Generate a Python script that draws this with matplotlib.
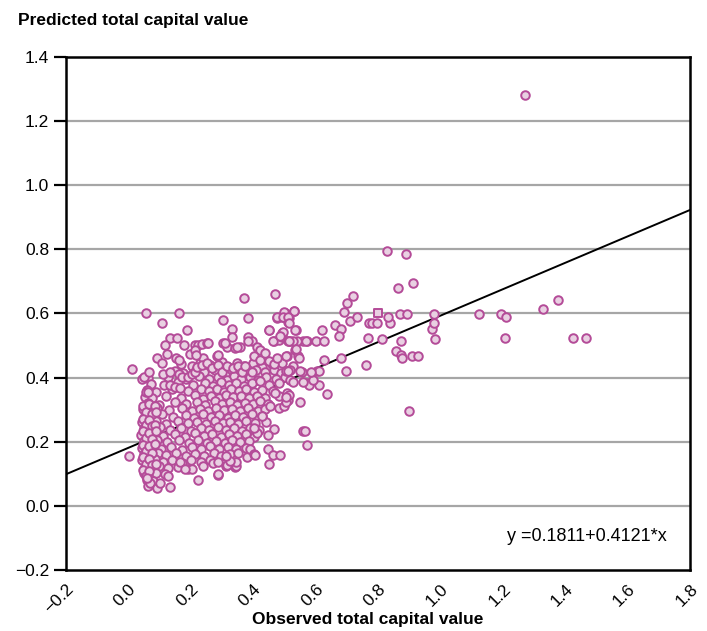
import numpy as np
import matplotlib.pyplot as plt

# regression line printed on the chart
intercept = 0.1811
slope = 0.4121

x_ticks = [-0.2, 0.0, 0.2, 0.4, 0.6, 0.8, 1.0, 1.2, 1.4, 1.6, 1.8]
y_ticks = [-0.2, 0.0, 0.2, 0.4, 0.6, 0.8, 1.0, 1.2, 1.4]
grid_levels = [0.0, 0.2, 0.4, 0.6, 0.8, 1.0, 1.2]

# (observed, predicted) pairs
core_points = [
    (0.170, 0.442), (0.205, 0.436), (0.228, 0.447), (0.262, 0.438), (0.300, 0.449), (0.318, 0.433),
    (0.347, 0.444), (0.372, 0.437), (0.398, 0.446), (0.428, 0.432), (0.459, 0.441), (0.492, 0.447),
    (0.527, 0.436),
    (0.148, 0.421), (0.176, 0.414), (0.215, 0.425), (0.243, 0.418), (0.276, 0.423), (0.308, 0.412),
    (0.330, 0.426), (0.356, 0.419), (0.381, 0.413), (0.409, 0.424), (0.437, 0.417), (0.466, 0.425),
    (0.488, 0.413),
    (0.062, 0.398), (0.126, 0.402), (0.185, 0.395), (0.226, 0.404), (0.258, 0.396), (0.287, 0.401),
    (0.316, 0.394), (0.338, 0.405), (0.362, 0.397), (0.389, 0.402), (0.414, 0.393), (0.442, 0.403),
    (0.474, 0.396), (0.503, 0.401),
    (0.072, 0.381), (0.113, 0.376), (0.158, 0.385), (0.206, 0.378), (0.245, 0.383), (0.272, 0.374),
    (0.298, 0.386), (0.322, 0.377), (0.345, 0.384), (0.371, 0.375), (0.396, 0.382), (0.421, 0.388),
    (0.451, 0.377), (0.483, 0.383),
    (0.058, 0.362), (0.088, 0.356), (0.139, 0.364), (0.192, 0.357), (0.232, 0.366), (0.259, 0.358),
    (0.283, 0.363), (0.307, 0.355), (0.329, 0.366), (0.353, 0.358), (0.378, 0.364), (0.403, 0.356),
    (0.429, 0.362), (0.462, 0.357),
    (0.052, 0.341), (0.076, 0.336), (0.121, 0.344), (0.168, 0.337), (0.212, 0.345), (0.238, 0.334),
    (0.265, 0.343), (0.291, 0.336), (0.313, 0.346), (0.336, 0.338), (0.361, 0.343), (0.387, 0.335),
    (0.412, 0.344), (0.438, 0.337), (0.482, 0.342),
    (0.064, 0.322), (0.098, 0.316), (0.149, 0.325), (0.186, 0.318), (0.219, 0.323), (0.247, 0.314),
    (0.276, 0.326), (0.299, 0.317), (0.324, 0.324), (0.348, 0.315), (0.373, 0.322), (0.398, 0.317),
    (0.423, 0.326), (0.446, 0.318),
    (0.048, 0.302), (0.068, 0.296), (0.091, 0.305), (0.131, 0.298), (0.172, 0.304), (0.203, 0.295),
    (0.228, 0.303), (0.256, 0.297), (0.282, 0.306), (0.306, 0.298), (0.331, 0.303), (0.357, 0.295),
    (0.384, 0.304), (0.416, 0.297), (0.437, 0.301),
    (0.052, 0.281), (0.079, 0.276), (0.108, 0.285), (0.142, 0.277), (0.183, 0.283), (0.211, 0.274),
    (0.238, 0.285), (0.266, 0.278), (0.291, 0.284), (0.318, 0.275), (0.342, 0.283), (0.368, 0.277),
    (0.395, 0.286), (0.427, 0.279),
    (0.043, 0.262), (0.063, 0.257), (0.087, 0.264), (0.121, 0.256), (0.159, 0.265), (0.192, 0.258),
    (0.221, 0.263), (0.248, 0.255), (0.277, 0.264), (0.302, 0.257), (0.327, 0.262), (0.352, 0.256),
    (0.378, 0.265), (0.406, 0.258), (0.441, 0.263),
    (0.051, 0.242), (0.072, 0.236), (0.101, 0.245), (0.133, 0.238), (0.168, 0.243), (0.199, 0.235),
    (0.231, 0.244), (0.259, 0.237), (0.287, 0.246), (0.312, 0.238), (0.338, 0.243), (0.363, 0.235),
    (0.391, 0.244), (0.418, 0.237), (0.468, 0.241),
    (0.041, 0.221), (0.059, 0.216), (0.082, 0.225), (0.112, 0.218), (0.148, 0.224), (0.181, 0.215),
    (0.212, 0.226), (0.242, 0.217), (0.269, 0.223), (0.297, 0.215), (0.323, 0.224), (0.348, 0.218),
    (0.376, 0.225), (0.401, 0.216), (0.447, 0.222),
    (0.049, 0.202), (0.071, 0.196), (0.093, 0.205), (0.124, 0.198), (0.162, 0.204), (0.193, 0.195),
    (0.223, 0.206), (0.252, 0.197), (0.281, 0.203), (0.309, 0.196), (0.333, 0.205), (0.358, 0.198),
    (0.387, 0.203),
    (0.042, 0.181), (0.061, 0.176), (0.083, 0.185), (0.103, 0.177), (0.138, 0.183), (0.172, 0.175),
    (0.203, 0.184), (0.234, 0.178), (0.262, 0.186), (0.291, 0.177), (0.318, 0.183), (0.346, 0.176),
    (0.377, 0.182),
    (0.051, 0.162), (0.073, 0.156), (0.094, 0.165), (0.121, 0.158), (0.152, 0.164), (0.183, 0.157),
    (0.212, 0.163), (0.241, 0.155), (0.273, 0.164), (0.298, 0.157), (0.327, 0.162),
    (0.043, 0.142), (0.062, 0.136), (0.084, 0.145), (0.111, 0.138), (0.141, 0.143), (0.172, 0.135),
    (0.201, 0.144), (0.232, 0.137), (0.262, 0.143),
    (0.052, 0.121), (0.071, 0.116), (0.098, 0.124), (0.128, 0.117), (0.158, 0.122), (0.191, 0.115),
    (0.049, 0.102), (0.068, 0.096), (0.088, 0.104), (0.118, 0.098),
    (0.058, 0.082), (0.079, 0.077),
]

# the tight column of low observed values near 0.05-0.09
column_points = [
    (0.046, 0.312), (0.055, 0.292), (0.047, 0.272), (0.057, 0.252), (0.046, 0.232), (0.055, 0.211),
    (0.047, 0.191), (0.056, 0.171), (0.046, 0.152), (0.056, 0.131), (0.047, 0.112), (0.057, 0.092),
    (0.066, 0.318), (0.075, 0.288), (0.066, 0.268), (0.076, 0.248), (0.065, 0.228), (0.077, 0.208),
    (0.066, 0.186), (0.076, 0.166), (0.065, 0.146), (0.077, 0.128), (0.066, 0.108), (0.064, 0.062),
    (0.085, 0.312), (0.088, 0.292), (0.086, 0.252), (0.089, 0.232), (0.085, 0.192), (0.087, 0.132),
]

edge_points = [
    (0.057, 0.603), (0.162, 0.603), (0.107, 0.570), (0.188, 0.547), (0.303, 0.580), (0.369, 0.648),
    (0.384, 0.585), (0.333, 0.552), (0.333, 0.528), (0.133, 0.523), (0.157, 0.523), (0.118, 0.501),
    (0.178, 0.501), (0.123, 0.473), (0.213, 0.501), (0.224, 0.501), (0.237, 0.504), (0.252, 0.507),
    (0.198, 0.473), (0.238, 0.461), (0.213, 0.487), (0.217, 0.471), (0.092, 0.461), (0.107, 0.445),
    (0.151, 0.461), (0.162, 0.455), (0.112, 0.411), (0.133, 0.418), (0.162, 0.411), (0.173, 0.403),
    (0.011, 0.427), (0.043, 0.395), (0.050, 0.401), (0.067, 0.416), (0.133, 0.376), (0.149, 0.372),
    (0.165, 0.367), (0.192, 0.403), (0.203, 0.411), (0.213, 0.419), (0.219, 0.432), (0.235, 0.438),
    (0.251, 0.445), (0.267, 0.429), (0.283, 0.466), (0.304, 0.507), (0.315, 0.497), (0.342, 0.492),
    (0.358, 0.495), (0.384, 0.528), (0.395, 0.513), (0.411, 0.497), (0.422, 0.487), (0.451, 0.547),
    (0.465, 0.513), (0.481, 0.518), (0.491, 0.528), (0.476, 0.585), (0.491, 0.588), (0.502, 0.603),
    (0.516, 0.585), (0.532, 0.609), (0.513, 0.572), (0.536, 0.547), (0.518, 0.513), (0.534, 0.487),
    (0.561, 0.513), (0.571, 0.513), (0.288, 0.440), (0.299, 0.416), (0.315, 0.435), (0.336, 0.429),
    (0.352, 0.435), (0.363, 0.416), (0.374, 0.435), (0.395, 0.419), (0.401, 0.466), (0.422, 0.455),
    (0.438, 0.476), (0.449, 0.453), (0.465, 0.443), (0.476, 0.461), (0.508, 0.466), (0.545, 0.466),
    (0.556, 0.419), (0.518, 0.424), (0.577, 0.383), (0.454, 0.310), (0.481, 0.305), (0.513, 0.331),
    (0.507, 0.352), (0.516, 0.346), (0.002, 0.154), (0.056, 0.355), (0.064, 0.355),
    (0.254, 0.509), (0.310, 0.507), (0.286, 0.471), (0.347, 0.497), (0.384, 0.513), (0.464, 0.513),
    (0.512, 0.513), (0.491, 0.539),
    (0.068, 0.071), (0.092, 0.055), (0.059, 0.086), (0.133, 0.058), (0.101, 0.071), (0.128, 0.092),
    (0.222, 0.081), (0.288, 0.097), (0.313, 0.125), (0.342, 0.120), (0.203, 0.114), (0.238, 0.125),
    (0.272, 0.133), (0.165, 0.138), (0.181, 0.114),
    (0.288, 0.099), (0.344, 0.123), (0.315, 0.126), (0.344, 0.138), (0.288, 0.138), (0.326, 0.140),
    (0.313, 0.156), (0.352, 0.164), (0.379, 0.151), (0.390, 0.178), (0.403, 0.161), (0.429, 0.279),
    (0.411, 0.227), (0.403, 0.244), (0.561, 0.234),
    (0.448, 0.177), (0.464, 0.160), (0.486, 0.160), (0.451, 0.132), (0.405, 0.160),
]

right_points = [
    (0.470, 0.661), (0.530, 0.609), (0.500, 0.604), (0.475, 0.588), (0.494, 0.588), (0.510, 0.588),
    (0.515, 0.570), (0.450, 0.547), (0.494, 0.541), (0.486, 0.530), (0.535, 0.547), (0.620, 0.547),
    (0.661, 0.564), (0.681, 0.553), (0.676, 0.530), (0.711, 0.575), (0.771, 0.570), (0.782, 0.570),
    (0.797, 0.570), (0.837, 0.570), (0.972, 0.552), (0.979, 0.570), (0.984, 0.519), (0.767, 0.523),
    (0.813, 0.519), (0.873, 0.513), (0.858, 0.484), (0.874, 0.469), (0.878, 0.462), (0.908, 0.468),
    (0.928, 0.468), (0.762, 0.439), (0.681, 0.462), (0.626, 0.455), (0.696, 0.422), (0.898, 0.297),
    (0.567, 0.235), (0.571, 0.189), (0.637, 0.348), (0.550, 0.325), (0.611, 0.376), (0.580, 0.376),
    (0.591, 0.393), (0.603, 0.422), (0.612, 0.422), (0.585, 0.416), (0.570, 0.513), (0.600, 0.513),
    (0.626, 0.513), (0.546, 0.462), (0.505, 0.468), (0.550, 0.422), (0.561, 0.387), (0.539, 0.513),
    (0.529, 0.513), (0.515, 0.513), (0.536, 0.489), (0.505, 0.422), (0.511, 0.422), (0.518, 0.393),
    (0.529, 0.387), (0.500, 0.313), (0.505, 0.325), (0.505, 0.341), (0.470, 0.353),
    (0.828, 0.796), (0.889, 0.785), (0.863, 0.678), (0.913, 0.695), (0.721, 0.655), (0.702, 0.632),
    (0.691, 0.604), (0.732, 0.589), (0.832, 0.589), (0.872, 0.598), (0.893, 0.598), (0.979, 0.598),
    (1.125, 0.598), (1.194, 0.598), (1.209, 0.589), (1.207, 0.524), (1.330, 0.615), (1.376, 0.643),
    (1.425, 0.524), (1.467, 0.524), (1.270, 1.280),
]

square_point = [(0.800, 0.601)]

edge_col = "#b44b98"
face_col = "#e9d0e2"
label_font = ["Liberation Sans", "DejaVu Sans"]

pts = np.array(core_points + column_points + edge_points + right_points)
sq = np.array(square_point)

fig = plt.figure(figsize=(7.07, 6.31), dpi=100)
ax = fig.add_axes([0.0934, 0.0967, 0.8826, 0.813])

for g in grid_levels:
    ax.axhline(g, color="#a6a6a6", lw=1.6, zorder=1)

xs = np.array([x_ticks[0], x_ticks[-1]])
ax.plot(xs, intercept + slope * xs, color="black", lw=1.4, zorder=2)

ax.scatter(pts[:, 0], pts[:, 1], s=38, marker="o", facecolor=face_col,
           edgecolor=edge_col, linewidth=1.4, zorder=3)
ax.scatter(sq[:, 0], sq[:, 1], s=36, marker="s", facecolor=face_col,
           edgecolor=edge_col, linewidth=1.4, zorder=3)

ax.set_xlim(x_ticks[0], x_ticks[-1])
ax.set_ylim(y_ticks[0], y_ticks[-1])
ax.set_xticks(x_ticks)
ax.set_yticks(y_ticks)
ax.set_xticklabels([f"{v:.1f}".replace("-", "\u2212") for v in x_ticks],
                   rotation=45, ha="right", va="top", rotation_mode="anchor",
                   family=label_font, fontsize=12.5)
ax.set_yticklabels([f"{v:.1f}".replace("-", "\u2212") for v in y_ticks],
                   family=label_font, fontsize=12.5)
ax.tick_params(axis="x", length=0, pad=8)
ax.tick_params(axis="y", length=9, width=1.6, direction="out", pad=3)
for s in ax.spines.values():
    s.set_linewidth(1.8)

ax.text(0.962, 0.048, "y =0.1811+0.4121*x", transform=ax.transAxes, ha="right", va="bottom",
        family=label_font, fontsize=13)

fig.text(0.025, 0.968, "Predicted total capital value", ha="left", va="center",
         family=label_font, fontsize=12.5, fontweight="bold")
fig.text(0.52, 0.018, "Observed total capital value", ha="center", va="center",
         family=label_font, fontsize=12.5, fontweight="bold")

fig.savefig("out.png", dpi=100)
